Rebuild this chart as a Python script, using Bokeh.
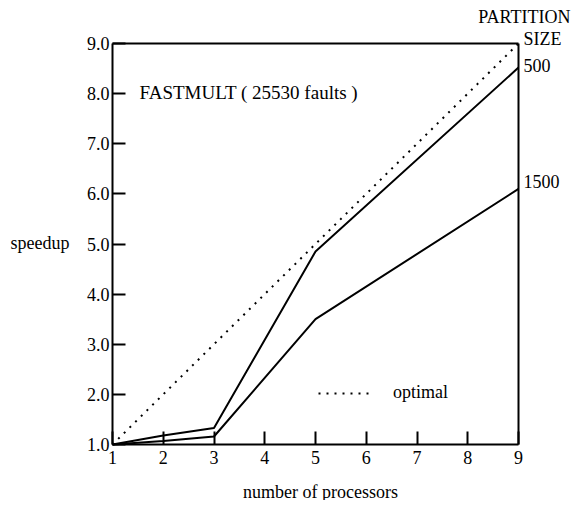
from bokeh.plotting import figure
from bokeh.models import Range1d, FixedTicker, Label, Legend, LegendItem, LinearAxis
from bokeh.embed import file_html
from bokeh.resources import INLINE

procs = [1, 2, 3, 5, 9]
speedup_500 = [1.0, 1.18, 1.33, 4.85, 8.52]
speedup_1500 = [1.0, 1.07, 1.16, 3.5, 6.1]
optimal_x = [1, 9]
optimal_y = [1, 9]
x_ticks = [1, 2, 3, 4, 5, 6, 7, 8, 9]
y_ticks = [1, 2, 3, 4, 5, 6, 7, 8, 9]

FONT = "Liberation Serif"
FS = "18px"

W, H = 573, 500
# plotting box in canvas pixels
X0, X1 = 112, 518
YT, YB = 43, 444
PX = (X1 - X0) / 8.0
PY = (YB - YT) / 8.0
x_start = 1 - X0 / PX
x_end = x_start + W / PX
y_end = 9 + YT / PY
y_start = 1 - (H - YB) / PY

p = figure(width=W, height=H, output_backend="svg", toolbar_location=None,
           x_range=Range1d(x_start, x_end), y_range=Range1d(y_start, y_end),
           x_axis_location=None, y_axis_location=None,
           min_border=0, min_border_left=0, min_border_right=0,
           min_border_top=0, min_border_bottom=0)
p.xgrid.visible = False
p.ygrid.visible = False
p.outline_line_color = None
p.background_fill_color = "white"
p.border_fill_color = "white"


def style(ax):
    ax.axis_line_width = 2
    ax.axis_line_color = "black"
    ax.major_tick_line_width = 2
    ax.major_tick_in = 13
    ax.major_tick_out = 0
    ax.minor_tick_line_color = None
    ax.major_label_text_font = FONT
    ax.major_label_text_font_size = FS
    ax.major_label_text_color = "black"


xaxis = LinearAxis(fixed_location=1, bounds=(1, 9), ticker=FixedTicker(ticks=x_ticks))
style(xaxis)
xaxis.major_label_standoff = 6
p.add_layout(xaxis, "below")

yaxis = LinearAxis(fixed_location=1, bounds=(1, 9), ticker=FixedTicker(ticks=y_ticks))
style(yaxis)
yaxis.major_label_overrides = {t: f"{t:.1f}" for t in y_ticks}
yaxis.major_label_standoff = 3
p.add_layout(yaxis, "left")

# closing border lines (top and right)
top = LinearAxis(fixed_location=9, bounds=(1, 9), ticker=FixedTicker(ticks=[]))
style(top)
top.major_tick_line_color = None
top.major_label_text_alpha = 0
p.add_layout(top, "above")

right = LinearAxis(fixed_location=9, bounds=(1, 9), ticker=FixedTicker(ticks=[]))
style(right)
right.major_tick_line_color = None
right.major_label_text_alpha = 0
p.add_layout(right, "right")

p.line(procs, speedup_500, line_color="black", line_width=2)
p.line(procs, speedup_1500, line_color="black", line_width=2)
opt = p.line(optimal_x, optimal_y, line_color="black", line_width=2, line_dash="2 6")

legend = Legend(items=[LegendItem(label="optimal", renderers=[opt])],
                location=(318, H - 393 - 10), padding=0, margin=0,
                glyph_width=54, glyph_height=20,
                label_standoff=21, label_text_font=FONT, label_text_font_size=FS,
                label_text_color="black",
                border_line_alpha=0, background_fill_alpha=0)
p.add_layout(legend, "center")


def dx(px):
    return 1 + (px - X0) / PX


def dy(py):
    return 1 + (YB - py) / PY


def lab(x, y, text, align="left", size=FS):
    p.add_layout(Label(x=x, y=y, text=text, text_font=FONT, text_font_size=size,
                       text_align=align, text_baseline="middle", text_color="black"))


lab(dx(139), dy(92), "FASTMULT ( 25530 faults )", size="19px")
lab(dx(10), dy(242), "speedup")
lab(dx(320), dy(491), "number of processors", "center")
lab(dx(570), dy(16), "PARTITION", "right")
lab(dx(523), dy(38), "SIZE")
lab(dx(523), dy(65), "500")
lab(dx(523), dy(181), "1500")

open("out.html", "w").write(file_html(p, INLINE))
